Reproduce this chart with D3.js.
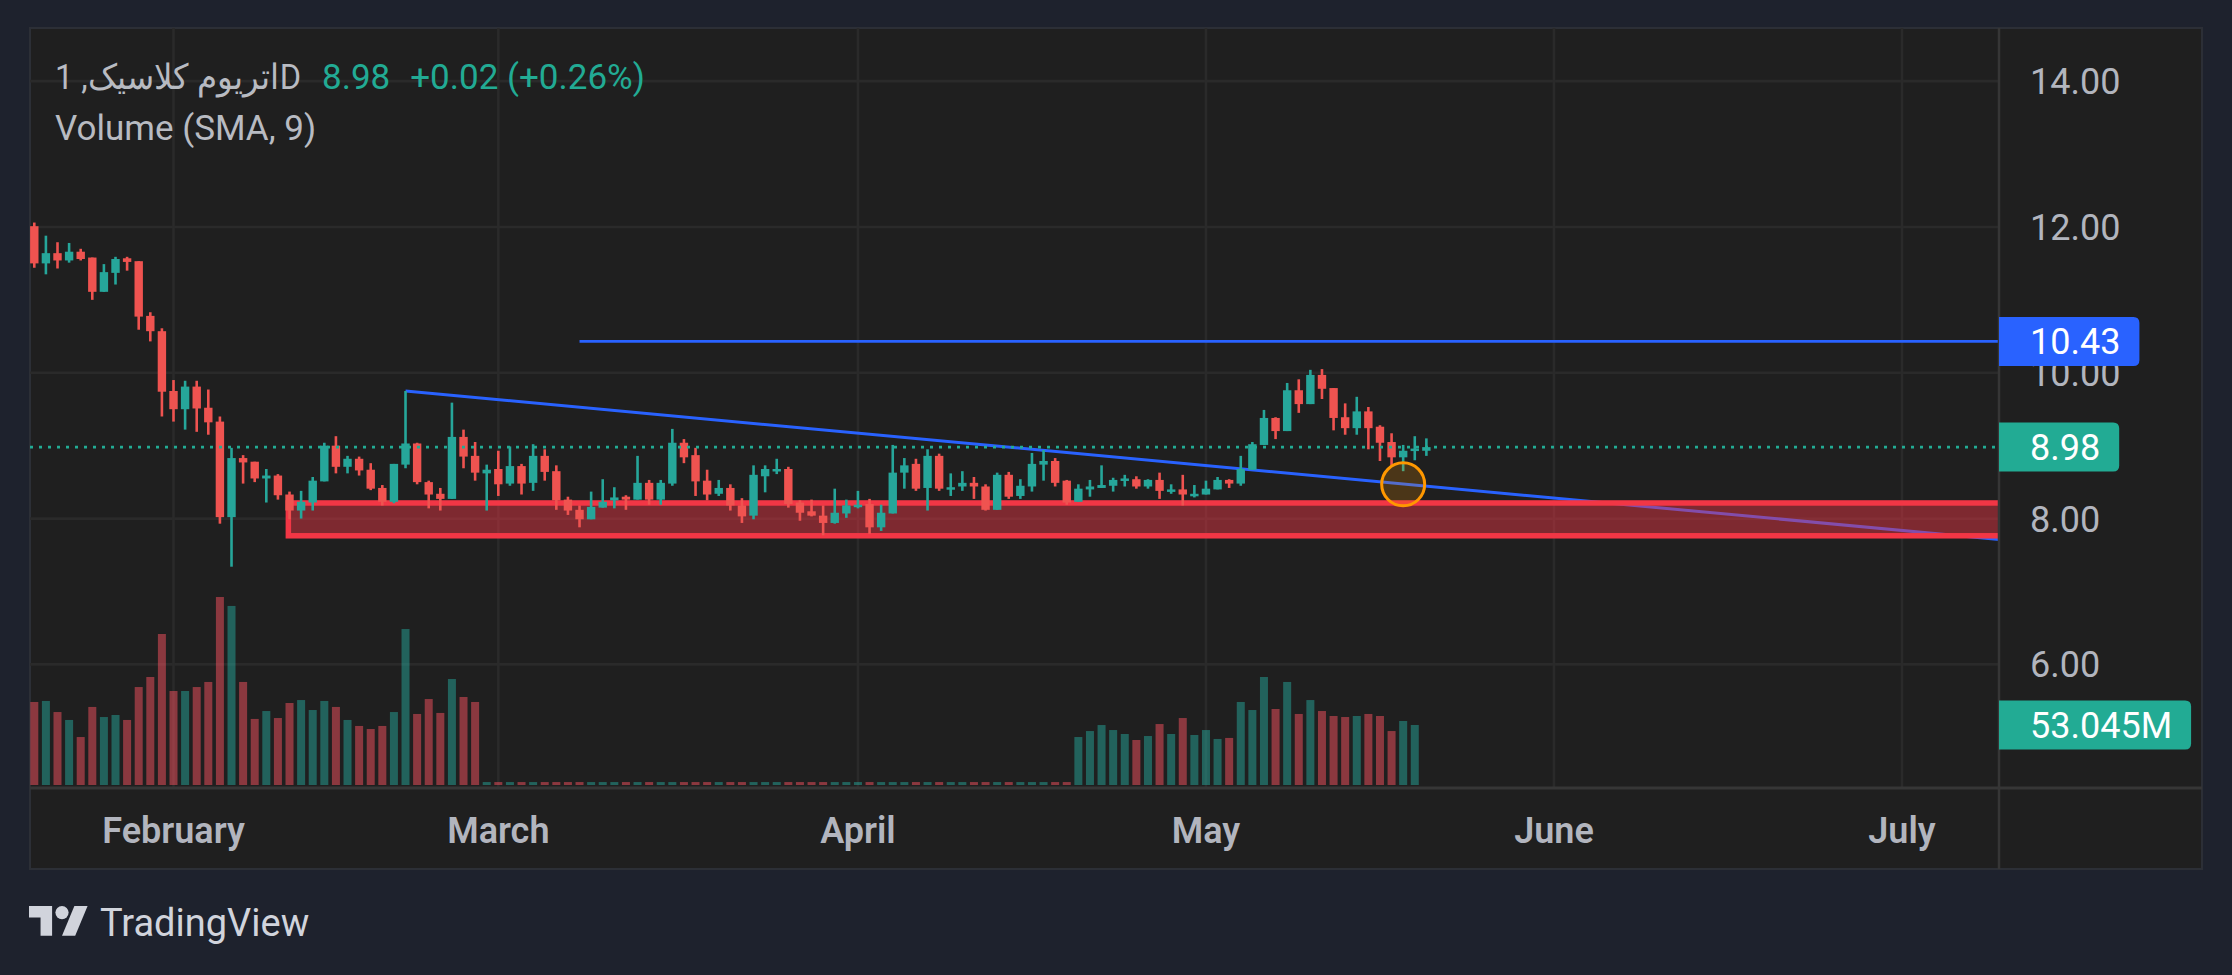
<!DOCTYPE html>
<html><head><meta charset="utf-8">
<script src="https://cdn.jsdelivr.net/npm/d3@7/dist/d3.min.js"></script>
<style>
html,body{margin:0;padding:0;background:#1e222d;}
svg{display:block;font-family:Roboto,"Noto Sans",sans-serif;}
</style></head>
<body>
<svg id="chart" width="2232" height="975"></svg>
<script>
// ---------------- DATA ----------------
const opens  = [12.01,11.50,11.64,11.54,11.66,11.58,11.11,11.37,11.57,11.53,10.78,10.57,9.75,9.50,9.81,9.52,9.33,8.02,8.83,8.78,8.55,8.59,8.33,8.11,8.22,8.51,9.00,8.71,8.82,8.67,8.42,8.23,8.74,9.03,8.50,8.34,8.27,9.12,8.86,8.62,8.68,8.48,8.72,8.49,8.86,8.65,8.26,8.12,7.99,8.15,8.25,8.30,8.26,8.49,8.26,8.48,9.04,8.87,8.52,8.34,8.42,8.18,8.04,8.58,8.67,8.68,8.22,8.10,8.04,7.94,8.07,8.18,8.20,7.88,8.07,8.63,8.75,8.42,8.86,8.41,8.44,8.49,8.44,8.12,8.60,8.31,8.44,8.74,8.79,8.52,8.23,8.40,8.42,8.45,8.52,8.54,8.44,8.53,8.38,8.40,8.33,8.33,8.40,8.53,8.48,8.67,9.01,9.38,9.20,9.76,9.57,9.97,9.79,9.39,9.24,9.47,9.26,9.05,8.84,8.93,8.93];
const highs  = [12.06,11.88,11.79,11.78,11.70,11.58,11.49,11.59,11.59,11.53,10.83,10.61,9.90,9.89,9.89,9.77,9.40,8.97,8.87,8.78,8.68,8.61,8.37,8.38,8.57,9.04,9.13,8.86,8.85,8.76,8.46,8.75,9.75,9.04,8.52,8.42,9.59,9.22,9.05,8.74,8.93,8.99,8.75,9.02,8.95,8.73,8.30,8.18,8.37,8.54,8.43,8.32,8.86,8.53,8.53,9.23,9.09,8.97,8.67,8.53,8.47,8.28,8.73,8.73,8.82,8.71,8.25,8.26,8.18,8.41,8.26,8.38,8.27,8.19,9.01,8.83,8.82,8.95,8.89,8.62,8.65,8.57,8.47,8.63,8.64,8.54,8.90,8.94,8.83,8.53,8.47,8.53,8.73,8.56,8.60,8.58,8.54,8.63,8.47,8.60,8.46,8.52,8.57,8.54,8.86,9.05,9.49,9.39,9.86,9.91,10.04,10.05,9.79,9.58,9.67,9.53,9.28,9.17,9.01,9.13,9.10];
const lows   = [11.44,11.35,11.43,11.51,11.54,11.00,11.11,11.21,11.40,10.59,10.43,9.40,9.33,9.22,9.19,9.15,7.93,7.34,8.48,8.50,8.22,8.26,7.99,8.00,8.11,8.51,8.62,8.62,8.59,8.39,8.18,8.21,8.69,8.47,8.14,8.11,8.27,8.69,8.52,8.11,8.31,8.45,8.33,8.38,8.52,8.12,8.05,7.88,7.99,8.15,8.14,8.12,8.26,8.19,8.19,8.45,8.76,8.31,8.25,8.31,8.11,7.94,7.99,8.36,8.61,8.15,7.97,8.03,7.77,7.93,8.01,8.14,7.79,7.83,8.07,8.41,8.38,8.11,8.38,8.31,8.38,8.27,8.11,8.12,8.27,8.27,8.37,8.52,8.44,8.19,8.23,8.30,8.42,8.37,8.44,8.41,8.41,8.27,8.34,8.18,8.29,8.33,8.40,8.42,8.45,8.67,9.01,9.09,9.20,9.45,9.57,9.64,9.21,9.15,9.15,8.95,8.79,8.73,8.65,8.80,8.86];
const closes = [11.50,11.64,11.54,11.66,11.56,11.11,11.38,11.56,11.52,10.77,10.57,9.74,9.50,9.81,9.51,9.32,8.02,8.83,8.77,8.55,8.59,8.32,8.11,8.23,8.52,9.00,8.71,8.82,8.66,8.41,8.23,8.75,9.03,8.50,8.33,8.27,9.12,8.85,8.63,8.67,8.47,8.72,8.48,8.86,8.64,8.25,8.11,7.99,8.16,8.23,8.29,8.26,8.49,8.26,8.49,9.04,8.84,8.51,8.33,8.42,8.18,8.03,8.60,8.68,8.68,8.20,8.08,8.04,7.94,8.08,8.18,8.19,7.88,8.08,8.63,8.73,8.41,8.86,8.41,8.43,8.49,8.44,8.12,8.60,8.30,8.45,8.75,8.79,8.49,8.22,8.41,8.44,8.46,8.53,8.55,8.44,8.53,8.38,8.40,8.33,8.34,8.41,8.53,8.48,8.68,9.02,9.38,9.20,9.76,9.57,9.97,9.78,9.38,9.24,9.47,9.24,9.04,8.84,8.93,8.96,8.98];
// volume in millions (last bar has no volume bar)
const volumes = [73.4,74.3,64.5,57.5,42.4,69.0,60.1,61.9,57.5,86.6,95.5,133.5,83.1,83.1,86.6,91.1,166.2,158.3,91.1,58.4,65.4,59.2,72.5,75.1,66.3,74.3,69.0,57.5,52.2,49.5,52.2,64.5,137.9,62.8,76.0,63.7,93.7,77.8,73.4,
  2.6,2.6,2.6,2.6,2.6,2.6,2.6,2.6,2.6,2.6,2.6,2.6,2.6,2.6,2.6,2.6,2.6,2.6,2.6,2.6,2.6,2.6,2.6,2.6,2.6,2.6,2.6,2.6,2.6,2.6,2.6,2.6,2.6,2.6,2.6,2.6,2.6,2.6,2.6,2.6,2.6,2.6,2.6,2.6,2.6,2.6,2.6,2.6,2.6,2.6,2.6,
  42.4,47.7,53.0,48.6,45.1,39.8,43.3,53.9,45.1,59.2,44.2,48.6,40.7,41.6,73.4,66.3,95.5,67.2,91.1,62.8,75.1,65.4,61.0,60.1,61.0,62.8,61.0,47.7,56.6,53.045,null];
const monthLabels = ["February","March","April","May","June","July"];
const monthBarIndex = [12,40,71,101,131,161];
const priceTicks = [6,8,10,12,14];
const symbolName = "اتریوم کلاسیک, 1D";
const lastPrice = 8.98, lastChange = "+0.02 (+0.26%)";
const volumeLegend = "Volume (SMA, 9)";
const lastVolumeLabel = "53.045M";
const hLineLevel = 10.43, hLineStartBar = 47;
const trendPoints = [{bar:32, price:9.75},{bar:118, price:8.475}];
const zone = {startBar:21.9, top:8.214, bottom:7.764};
const markCircle = {bar:118, price:8.47};

// ---------------- LAYOUT ----------------
const W=2232, H=975;
const pane = {x0:30, y0:28, x1:2202, y1:869};
const plot = {left:30, right:1999, top:28, bottom:787};
const volBase = 785;
const up="#26a69a", down="#ef5350";
const upVol="rgba(38,166,154,0.5)", downVol="rgba(247,82,95,0.5)";
const textCol="#b2b5be";

const svg=d3.select("#chart");
svg.append("rect").attr("width",W).attr("height",H).attr("fill","#1e222d");
svg.append("rect").attr("x",pane.x0).attr("y",pane.y0).attr("width",pane.x1-pane.x0).attr("height",pane.y1-pane.y0)
  .attr("fill","#1f1f1f").attr("stroke","#2c2f36").attr("stroke-width",2);

const x=d3.scaleLinear().domain([0,161]).range([34.3,1902]);
const y=d3.scaleLinear().domain([6,14]).range([664.4,81.1]);
const yv=d3.scaleLinear().domain([0,53.045]).range([volBase,725]);

svg.append("clipPath").attr("id","clip").append("rect")
  .attr("x",plot.left).attr("y",plot.top).attr("width",plot.right-plot.left).attr("height",plot.bottom-plot.top);

// grid
const grid=svg.append("g");
grid.selectAll("line.h").data(priceTicks).join("line")
  .attr("x1",plot.left).attr("x2",plot.right).attr("y1",d=>y(d)).attr("y2",d=>y(d))
  .attr("stroke","#2a2a2a").attr("stroke-width",2.6);
grid.selectAll("line.v").data(monthBarIndex).join("line").attr("class","v")
  .attr("x1",d=>x(d)).attr("x2",d=>x(d)).attr("y1",plot.top).attr("y2",plot.bottom)
  .attr("stroke","#2a2a2a").attr("stroke-width",2.6);

const g=svg.append("g").attr("clip-path","url(#clip)");
const n=opens.length;
const idx=d3.range(n);

// trend line (below zone)
const tSlope=(trendPoints[1].price-trendPoints[0].price)/(trendPoints[1].bar-trendPoints[0].bar);
const endBar=x.invert(plot.right+5);
g.append("line")
  .attr("x1",x(trendPoints[0].bar)).attr("y1",y(trendPoints[0].price))
  .attr("x2",x(endBar)).attr("y2",y(trendPoints[0].price+tSlope*(endBar-trendPoints[0].bar)))
  .attr("stroke","#2962ff").attr("stroke-width",3);

// horizontal ray
g.append("line").attr("x1",x(hLineStartBar)).attr("x2",plot.right+5)
  .attr("y1",y(hLineLevel)).attr("y2",y(hLineLevel)).attr("stroke","#2962ff").attr("stroke-width",2.7);

// zone rectangle
g.append("rect").attr("x",x(zone.startBar)).attr("y",y(zone.top))
  .attr("width",plot.right+20-x(zone.startBar)).attr("height",y(zone.bottom)-y(zone.top))
  .attr("fill","rgba(242,54,69,0.45)").attr("stroke","#f23645").attr("stroke-width",5.5);

// volume
g.selectAll("rect.vol").data(idx.filter(i=>volumes[i]!=null)).join("rect").attr("class","vol")
  .attr("x",i=>x(i)-4).attr("width",8)
  .attr("y",i=>yv(volumes[i])).attr("height",i=>volBase-yv(volumes[i]))
  .attr("fill",i=>closes[i]>=opens[i]?upVol:downVol);

// candles
const c=g.selectAll("g.c").data(idx).join("g").attr("class","c");
c.append("line").attr("x1",i=>x(i)).attr("x2",i=>x(i))
  .attr("y1",i=>y(highs[i])).attr("y2",i=>y(lows[i]))
  .attr("stroke",i=>closes[i]>=opens[i]?up:down).attr("stroke-width",2.6);
c.append("rect").attr("x",i=>x(i)-4.2).attr("width",8.4)
  .attr("y",i=>y(Math.max(opens[i],closes[i])))
  .attr("height",i=>Math.max(2.5,Math.abs(y(opens[i])-y(closes[i]))))
  .attr("fill",i=>closes[i]>=opens[i]?up:down);

// last price dotted line
g.append("line").attr("x1",plot.left).attr("x2",plot.right).attr("y1",y(lastPrice)).attr("y2",y(lastPrice))
  .attr("stroke","#22ab94").attr("stroke-width",2.8).attr("stroke-dasharray","3 6");

// circle marker
g.append("circle").attr("cx",x(markCircle.bar)).attr("cy",y(markCircle.price)).attr("r",21.5)
  .attr("fill","rgba(255,152,0,0.2)").attr("stroke","#ff9800").attr("stroke-width",3);

// separators
svg.append("line").attr("x1",plot.right).attr("x2",plot.right).attr("y1",pane.y0).attr("y2",pane.y1)
  .attr("stroke","#363636").attr("stroke-width",2.5);
svg.append("line").attr("x1",pane.x0).attr("x2",pane.x1).attr("y1",plot.bottom+1).attr("y2",plot.bottom+1)
  .attr("stroke","#363636").attr("stroke-width",3);

// price axis labels
const axisX=2030;
svg.selectAll("text.pt").data(priceTicks).join("text").attr("class","pt")
  .attr("x",axisX).attr("y",d=>y(d)).attr("dy","0.36em")
  .attr("fill",textCol).attr("font-size",36).text(d3.format(".2f"));

function priceLabel(val,txt,color){
  const t=svg.append("text").attr("x",axisX).attr("y",val).attr("dy","0.36em")
    .attr("fill","#ffffff").attr("font-size",36).text(txt);
  const w=t.node().getComputedTextLength();
  const x0=plot.right, x1=axisX+w+19, h=49, r=6, top=val-h/2;
  svg.insert("path","text:last-of-type")
    .attr("d",`M${x0},${top}H${x1-r}Q${x1},${top} ${x1},${top+r}V${top+h-r}Q${x1},${top+h} ${x1-r},${top+h}H${x0}Z`)
    .attr("fill",color);
  t.raise();
}
priceLabel(y(hLineLevel),d3.format(".2f")(hLineLevel),"#2962ff");
priceLabel(y(lastPrice),d3.format(".2f")(lastPrice),"#22ab94");
priceLabel(yv(volumes[n-2]),lastVolumeLabel,"#22ab94");

// time axis labels
svg.selectAll("text.mt").data(monthLabels).join("text").attr("class","mt")
  .attr("x",(d,i)=>x(monthBarIndex[i])).attr("y",830).attr("dy","0.36em")
  .attr("text-anchor","middle").attr("fill",textCol).attr("font-size",36).attr("font-weight",600).text(d=>d);

// legend
const nameW=246;
const t1=svg.append("text").attr("x",55).attr("y",89).attr("fill","#b8bbc2").attr("font-size",35)
  .attr("direction","ltr").attr("textLength",nameW).attr("lengthAdjust","spacingAndGlyphs").text(symbolName);
const t2=svg.append("text").attr("x",55+nameW+21).attr("y",89).attr("fill","#22ab94").attr("font-size",35).text(d3.format(".2f")(lastPrice));
const w2=t2.node().getComputedTextLength();
svg.append("text").attr("x",55+nameW+21+w2+20).attr("y",89).attr("fill","#22ab94").attr("font-size",35).text(lastChange);
svg.append("text").attr("x",55).attr("y",140).attr("fill","#b8bbc2").attr("font-size",35).text(volumeLegend);

// TradingView logo
const logo=svg.append("g").attr("transform","translate(29,899.4) scale(1.65)").attr("fill","#d1d4dc");
logo.append("path").attr("d","M14 22H7V11H0V4h14v18z");
logo.append("path").attr("d","M28 22h-8l7.5-18h8L28 22z");
logo.append("circle").attr("cx",20).attr("cy",8).attr("r",4);
svg.append("text").attr("x",100).attr("y",936).attr("fill","#d1d4dc").attr("font-size",38).text("TradingView");
</script>
</body></html>
